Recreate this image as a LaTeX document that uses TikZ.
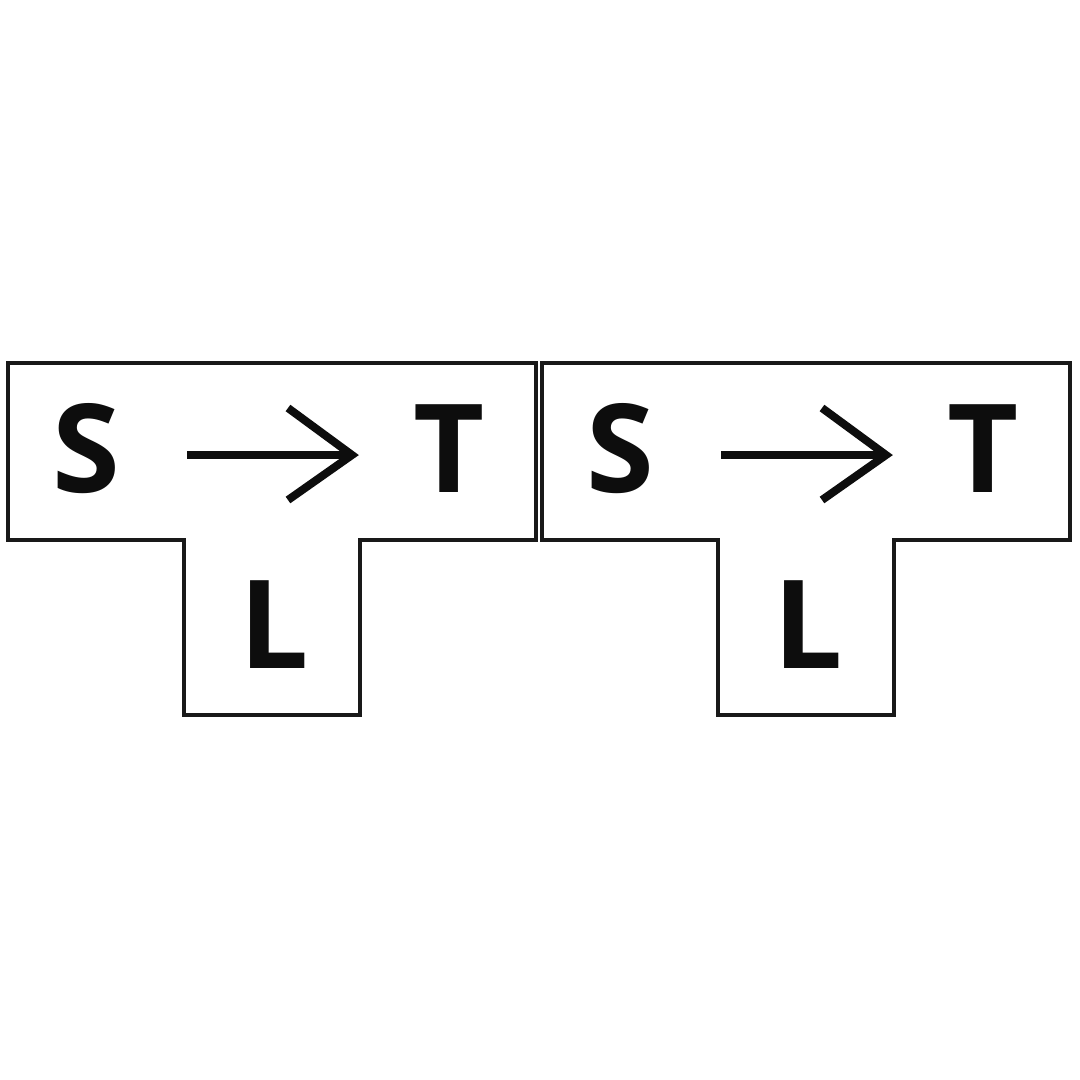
\documentclass[tikz,border=0pt]{standalone}
\usepackage{fontspec}
\setmainfont{Open Sans}
\begin{document}
\begin{tikzpicture}[x=1pt,y=-1pt,
  outline/.style={draw=black!90, line width=3.5pt, line join=miter},
  letter/.style={inner sep=0pt, text=black!95, font=\bfseries\fontsize{123}{123}\selectfont},
  shaft/.style={draw=black!95, line width=8pt},
]
\useasboundingbox (0,0) rectangle (1080,1080);
\fill[white] (0,0) rectangle (1080,1080);
\foreach \i/\dx in {a/0,b/534}{
  \begin{scope}[xshift=\dx pt]
    \draw[outline] (8,363) -- (536,363) -- (536,540) -- (360,540) -- (360,715)
      -- (184,715) -- (184,540) -- (8,540) -- cycle;
    \node[letter] (S\i) at (86,449) {S};
    \node[letter] (T\i) at (449.5,449) {T};
    \node[letter] (L\i) at (274,625) {L};
    \coordinate (A\i) at (187,455);
    \coordinate (B\i) at (352,455);
    \coordinate (U\i) at (288,408);
    \coordinate (D\i) at (288,500);
    \draw[shaft] (A\i) -- (B\i);
    \draw[shaft, line join=miter] (U\i) -- (B\i) -- (D\i);
  \end{scope}
}
\end{tikzpicture}
\end{document}
